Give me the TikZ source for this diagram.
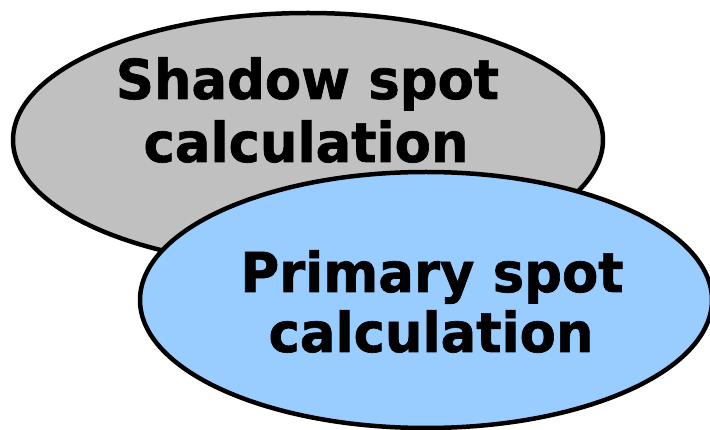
\documentclass[tikz,border=0pt]{standalone}
\usepackage{fontspec}
\setmainfont{DejaVu Sans}[FakeStretch=0.96,BoldFeatures={FakeStretch=0.96,FakeBold=1.2}]
\usetikzlibrary{shapes.geometric}
\begin{document}
\begin{tikzpicture}[x=1pt,y=-1pt,
  blob/.style={ellipse, draw=black, line width=4.5pt, inner sep=0pt},
  lbl/.style={anchor=base, inner sep=0pt, font=\fontsize{55}{62}\selectfont\bfseries}]
\useasboundingbox (0,0) rectangle (710,430);
\definecolor{shadowgray}{HTML}{C0C0C0}
\definecolor{primblue}{HTML}{99CCFF}
\node[blob, fill=shadowgray, minimum width=590pt, minimum height=254pt] (shadow) at (308,140) {};
\node[lbl] (s1) at (307.5,99) {Shadow spot};
\node[lbl] (s2) at (306,162) {calculation};
\node[blob, fill=primblue, minimum width=572pt, minimum height=256pt] (primary) at (426,300) {};
\node[lbl] (p1) at (432,292) {Primary spot};
\node[lbl] (p2) at (431,352) {calculation};
\end{tikzpicture}
\end{document}
